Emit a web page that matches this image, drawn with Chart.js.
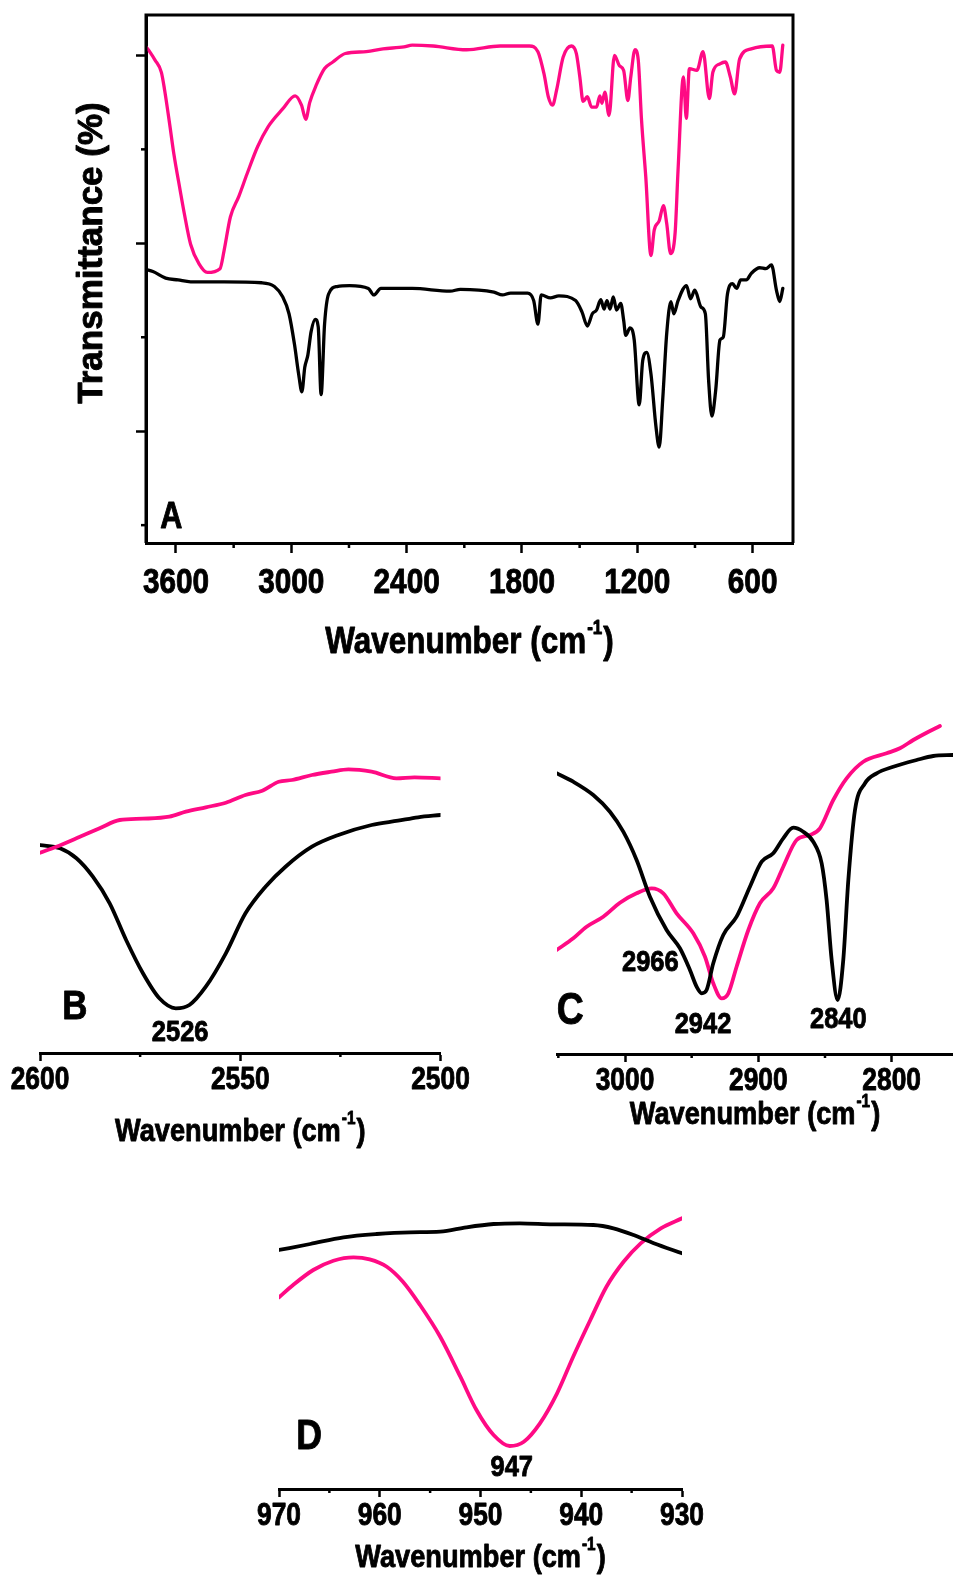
<!DOCTYPE html>
<html><head><meta charset="utf-8">
<script src="https://cdn.jsdelivr.net/npm/chart.js@4/dist/chart.umd.min.js"></script>
<style>
html,body{margin:0;padding:0;background:#fff;}
body{width:953px;height:1576px;position:relative;overflow:hidden;}
canvas{position:absolute;}
</style></head><body>
<canvas id="cA" style="left:0;top:0" width="953" height="690"></canvas>
<canvas id="cB" style="left:0;top:700px" width="476" height="460"></canvas>
<canvas id="cC" style="left:476px;top:700px" width="477" height="460"></canvas>
<canvas id="cD" style="left:200px;top:1180px" width="560" height="396"></canvas>
<script>
// ---------- DATA ----------
const waveA_pink = [3755,3737,3709,3676,3659,3633,3611,3578,3557,3524,3480,3437,3371,3350,3317,3273,3230,3175,3121,3045,2980,2947,2925,2904,2871,2827,2784,2719,2610,2523,2414,2371,2262,2088,1913,1761,1717,1685,1663,1641,1620,1586,1543,1517,1499,1482,1460,1438,1412,1395,1384,1369,1347,1319,1293,1271,1249,1234,1212,1195,1178,1156,1129,1112,1086,1064,1047,1027,1003,988,960,945,929,890,858,825,807,770,742,716,694,668,607,498,476,459,443];
const transA_pink = [50.9,50.4,49.5,48.2,46.3,42.7,39.5,35.6,33.2,29.9,27.8,26.9,27.3,29.2,32.8,35.0,37.4,40.3,42.4,44.3,45.7,44.7,43.2,45.0,46.8,48.6,49.3,50.2,50.4,50.7,50.9,51.1,51.0,50.6,51.0,51.0,50.4,48.0,45.6,44.7,46.3,49.8,51.0,50.2,47.7,45.1,45.6,44.5,44.5,45.7,44.9,46.1,43.6,50.0,48.9,48.4,45.2,47.7,50.6,49.5,43.1,37.1,28.7,31.4,32.4,34.0,32.1,28.9,31.2,37.8,47.7,43.3,48.6,48.4,50.4,45.4,48.2,49.1,49.3,47.7,45.9,49.6,50.7,51.0,48.4,48.2,51.1];
const waveA_black = [3755,3720,3654,3589,3524,3350,3154,3088,3045,3012,2984,2962,2945,2930,2914,2897,2875,2860,2845,2827,2806,2762,2697,2599,2571,2534,2371,2174,2120,1946,1902,1859,1771,1739,1717,1700,1652,1608,1521,1488,1460,1434,1412,1390,1373,1358,1342,1325,1308,1286,1271,1260,1238,1216,1190,1172,1151,1129,1103,1086,1068,1047,1025,1010,988,944,923,901,868,846,829,812,792,770,753,731,705,683,662,633,607,563,531,502,476,459,443];
const transA_black = [27.2,27.0,26.3,26.1,25.9,25.9,25.8,25.4,24.3,22.5,19.3,16.1,14.2,16.8,18.1,20.6,21.9,21.1,13.9,21.4,24.6,25.4,25.5,25.2,24.5,25.2,25.2,24.9,25.1,24.8,24.5,24.7,24.7,23.9,21.4,24.5,24.2,24.4,23.9,22.7,21.2,22.5,22.9,24.0,23.0,23.9,23.0,24.3,22.9,23.6,21.8,20.2,21.0,19.7,12.8,17.5,18.4,16.1,10.5,8.3,13.3,20.4,23.8,22.5,23.9,25.5,24.1,25.0,23.2,22.5,15.4,11.6,14.4,19.7,20.0,24.6,25.7,25.2,26.1,26.1,26.8,27.4,27.3,27.7,25.0,23.8,25.2];

const waveB_pink = [2600,2595.9,2590.9,2585.1,2580.1,2574.3,2567.7,2563.6,2558.6,2553.6,2548.7,2544.5,2540.4,2537.1,2532.1,2527.2,2523.0,2517.2,2511.0,2506.5,2500];
const valB_pink = [200.3,206.3,214.7,224.7,233,234.3,236.3,241.3,245.7,250.3,258,262.3,271.3,273,278,281.3,283.7,281.3,274.7,275.7,274.7];
const waveB_black = [2600,2595,2590.9,2586.8,2582.6,2578.5,2574.3,2570.2,2566.1,2562.7,2558.6,2553.6,2548.7,2543.7,2538.7,2532.1,2525.5,2517.2,2510.6,2505.6,2500];
const valB_black = [208,204.7,194.7,176.3,149.7,113,79.7,54.7,44.7,48,66.3,99.7,139.7,166.3,186.3,206.3,218,228,232.3,235.7,238];

const waveC_black = [3051.3,3038.8,3023.8,3011.3,3001.3,2991.3,2981.3,2968.8,2958.8,2951.3,2946.3,2942.5,2938.8,2933.8,2926.3,2916.3,2906.3,2897.5,2888.8,2881.3,2873.8,2866.3,2858.8,2852.5,2848.8,2845,2840.5,2836.3,2832.5,2827.5,2820,2811.3,2798.8,2781.3,2768.8,2753.8];
const valC_black = [280.7,272.3,259,242.3,222.3,194,157.3,124,105.7,84,67.3,60.7,64,90.7,119,137.3,167.3,192.3,200.7,215.7,226.3,222.3,212.3,190.7,154,94,54,94,174,244,270.7,280.7,287.3,294,298,299];
const waveC_pink = [3051.3,3038.8,3028.8,3016.3,3003.8,2991.3,2980,2971.3,2961.3,2948.8,2940,2933.8,2927.5,2922.5,2916.3,2907.5,2898.8,2888.8,2881.3,2871.3,2861.3,2853.8,2843.8,2833.8,2821.3,2803.8,2793.8,2783.8,2773.8,2763.8];
const valC_pink = [104,115.7,127.3,137.3,151.3,160.7,165.7,160.7,140.7,120.7,97.3,70.7,55.7,60.7,87.3,124,150.7,165.7,187.3,214,219,225.7,254,275.7,292.3,300.7,305.7,314,321.3,328];

const waveD_black = [970,966.9,963.6,960.3,957.0,954.0,951.4,948.7,946.1,942.8,938.8,936.8,934.8,932.8,930];
const valD_black = [239,245,251.7,255,256.7,257.3,261.7,265,265.7,264.7,264,260.7,254,245.7,235.7];
const waveD_pink = [970,968.6,966.6,964.6,962.6,961.0,959.3,957.7,956.0,954.0,952.0,950.4,948.7,947.1,945.7,944.1,942.4,940.8,939.1,937.5,935.8,934.1,932.1,930];
const valD_pink = [191.7,204,219,228.3,231.7,229.7,222.3,207.3,184,152.3,112.3,79,54,43,47.3,65.7,95.7,132.3,169,202.3,227.3,245.7,260.7,270.7];

// tick positions (all) and labelled ticks
const ticksA_x = [3600,3300,3000,2700,2400,2100,1800,1500,1200,900,600];
const labelsA_x = [3600,3000,2400,1800,1200,600];
const ticksA_y = [0,10,20,30,40,50];
const majorA_y = [10,30,50];
const ticksB_x = [2600,2575,2550,2525,2500];
const labelsB_x = [2600,2550,2500];
const ticksC_x = [3050,3000,2950,2900,2850,2800];
const labelsC_x = [3000,2900,2800];
const ticksD_x = [970,965,960,955,950,945,940,935,930];
const labelsD_x = [970,960,950,940,930];
const peakLabelsB = ['2526'];
const peakLabelsC = ['2966','2942','2840'];
const peakLabelsD = ['947'];

// ---------- STYLE ----------
const PINK = '#ff0a84';
const FONT = "'Liberation Sans',Arial,sans-serif";
const SQUEEZE = 0.85;
Chart.defaults.color = '#000';

// condensed, heavy look: horizontally squeeze (and slightly embolden) text drawn on these canvases
function squeezeCtx(id){
  const ctx = document.getElementById(id).getContext('2d');
  const orig = ctx.fillText.bind(ctx);
  const origStroke = ctx.strokeText.bind(ctx);
  ctx.squeezeX = SQUEEZE;
  ctx.fillText = function(text, x, y){
    const k = ctx.squeezeX;
    ctx.save(); ctx.translate(x, y); ctx.scale(k, 1);
    orig(text, 0, 0);
    ctx.strokeStyle = ctx.fillStyle; ctx.lineWidth = 0.9; ctx.lineJoin = 'round';
    origStroke(text, 0, 0);
    ctx.restore();
  };
}
['cA','cB','cC','cD'].forEach(squeezeCtx);

function pts(xs, ys){ return xs.map((x,i)=>({x:x, y:ys[i]})); }

const extras = {
  id:'extras',
  afterDraw(chart, args, o){
    const ctx = chart.ctx, a = chart.chartArea, sx = chart.scales.x, sy = chart.scales.y;
    ctx.save();
    ctx.fillStyle = '#000'; ctx.strokeStyle = '#000';
    if (o.frame){
      ctx.lineWidth = 3;
      ctx.beginPath();
      ctx.moveTo(a.left, a.bottom); ctx.lineTo(a.left, a.top); ctx.lineTo(a.right, a.top); ctx.lineTo(a.right, a.bottom);
      ctx.stroke();
    }
    // minor ticks (shorter)
    ctx.lineWidth = 2.5;
    sx.ticks.forEach(t=>{
      if (!o.labelsX.includes(t.value)){
        const p = sx.getPixelForValue(t.value);
        ctx.beginPath(); ctx.moveTo(p, a.bottom); ctx.lineTo(p, a.bottom + o.minorLen); ctx.stroke();
      }
    });
    if (o.majorY){
      sy.ticks.forEach(t=>{
        if (!o.majorY.includes(t.value)){
          const p = sy.getPixelForValue(t.value);
          ctx.beginPath(); ctx.moveTo(a.left, p); ctx.lineTo(a.left - o.minorLen, p); ctx.stroke();
        }
      });
    }
    // x title with superscript
    const size = o.titleSize, cx = (a.left + a.right)/2, cy = a.bottom + o.titleOffset;
    const k = SQUEEZE;
    const main='Wavenumber (cm', sup='-1', end=')';
    const supSize = Math.round(size*0.55);
    ctx.textBaseline='middle'; ctx.textAlign='left';
    ctx.font = `bold ${size}px ${FONT}`;
    const w1 = ctx.measureText(main).width*k, w3 = ctx.measureText(end).width*k;
    ctx.font = `bold ${supSize}px ${FONT}`;
    const w2 = ctx.measureText(sup).width*k;
    let x = cx - (w1+w2+w3+2)/2;
    ctx.font = `bold ${size}px ${FONT}`; ctx.fillText(main, x, cy); x += w1+1;
    ctx.font = `bold ${supSize}px ${FONT}`; ctx.fillText(sup, x, cy - size*0.4); x += w2+1;
    ctx.font = `bold ${size}px ${FONT}`; ctx.fillText(end, x, cy);
    // y title (normal width)
    if (o.yTitle){
      ctx.save();
      ctx.translate(o.yTitle.x, (a.top+a.bottom)/2 + o.yTitle.dy);
      ctx.rotate(-Math.PI/2);
      ctx.textAlign='center'; ctx.textBaseline='middle';
      ctx.font = `bold ${o.yTitle.size}px ${FONT}`;
      ctx.squeezeX = 1;
      ctx.fillText(o.yTitle.text, 0, 0);
      ctx.squeezeX = SQUEEZE;
      ctx.restore();
    }
    // annotations anchored to data coordinates
    ctx.textAlign='center'; ctx.textBaseline='middle';
    (o.notes||[]).forEach(n=>{
      ctx.font = `bold ${n.size}px ${FONT}`;
      ctx.fillText(n.text, sx.getPixelForValue(n.x), sy.getPixelForValue(n.y));
    });
    ctx.restore();
  }
};

function makeChart(id, c){
  const isLab = v => c.labelsX.includes(v);
  const yOpts = c.ticksY ? {
    type:'linear', min:c.yMin, max:c.yMax, display:true,
    afterFit: s => { s.width = c.yWidth; },
    afterBuildTicks: s => { s.ticks = c.ticksY.map(v=>({value:v})); },
    ticks:{display:false},
    grid:{display:true, drawOnChartArea:false, drawTicks:true, tickLength:c.tickLen, tickWidth:2.5,
          tickColor: ctx => (c.majorY.includes(ctx.tick.value) ? '#000' : 'rgba(0,0,0,0)')},
    border:{display:true, color:'#000', width:3}
  } : { type:'linear', min:c.yMin, max:c.yMax, display:false };
  return new Chart(document.getElementById(id), {
    type:'line',
    data:{ datasets: c.series.map(s=>({
      data: s.data, borderColor: s.color, borderWidth: c.lineWidth, pointRadius:0,
      fill:false, cubicInterpolationMode:'monotone', borderJoinStyle:'round', borderCapStyle:'round'
    }))},
    options:{
      responsive:false, animation:false, events:[],
      layout:{ padding:{left:c.pad.left, right:c.pad.right, top:c.pad.top, bottom:0}, autoPadding:false },
      plugins:{ legend:{display:false}, tooltip:{enabled:false},
        extras:{ frame:c.frame, labelsX:c.labelsX, majorY:c.majorY, minorLen:c.minorLen,
                 titleSize:c.titleSize, titleOffset:c.titleOffset, yTitle:c.yTitle, notes:c.notes } },
      scales:{
        x:{ type:'linear', reverse:true, min:c.xMin, max:c.xMax, position:'bottom',
            afterFit: s => { s.height = c.xHeight; },
            afterBuildTicks: s => { s.ticks = c.ticksX.map(v=>({value:v})); },
            ticks:{ maxRotation:0, minRotation:0, autoSkip:false, padding:c.tickPad,
                    font:{family:FONT, size:c.tickSize, weight:'bold'},
                    callback: v => (isLab(v) ? String(v) : '') },
            grid:{ display:true, drawOnChartArea:false, drawTicks:true, tickLength:c.tickLen, tickWidth:2.5,
                   tickColor: ctx => (isLab(ctx.tick.value) ? '#000' : 'rgba(0,0,0,0)') },
            border:{ display:true, color:'#000', width:3 } },
        y: yOpts
      }
    },
    plugins:[extras]
  });
}

// Panel A
makeChart('cA', {
  series:[{data:pts(waveA_pink, transA_pink), color:PINK},{data:pts(waveA_black, transA_black), color:'#000'}],
  xMin:390, xMax:3756, ticksX:ticksA_x, labelsX:labelsA_x,
  yMin:-1.9, yMax:54.3, ticksY:ticksA_y, majorY:majorA_y, yWidth:146,
  pad:{left:0, right:160, top:15}, xHeight:147,
  tickLen:10, minorLen:5, tickPad:9, tickSize:35, lineWidth:3.3,
  frame:true, titleSize:37, titleOffset:100,
  yTitle:{text:'Transmittance (%)', x:92, dy:-26, size:35},
  notes:[{text:'A', x:3625, y:0.7, size:36}]
});
// Panel B
makeChart('cB', {
  series:[{data:pts(waveB_pink, valB_pink), color:PINK},{data:pts(waveB_black, valB_black), color:'#000'}],
  xMin:2500, xMax:2600, ticksX:ticksB_x, labelsX:labelsB_x,
  yMin:0, yMax:333,
  pad:{left:40, right:33, top:20}, xHeight:107,
  tickLen:8, minorLen:4, tickPad:1, tickSize:31, lineWidth:3.8,
  frame:false, titleSize:32, titleOffset:79,
  notes:[{text:'B', x:2591.3, y:45, size:41},{text:peakLabelsB[0], x:2565, y:20, size:30}]
});
// Panel C
makeChart('cC', {
  series:[{data:pts(waveC_black, valC_black), color:'#000'},{data:pts(waveC_pink, valC_pink), color:PINK}],
  xMin:2754, xMax:3051, ticksX:ticksC_x, labelsX:labelsC_x,
  yMin:0, yMax:334,
  pad:{left:81, right:0, top:20}, xHeight:106,
  tickLen:8, minorLen:4, tickPad:1, tickSize:31, lineWidth:3.8,
  frame:false, titleSize:32, titleOffset:61,
  notes:[{text:'C', x:3041, y:42, size:44},{text:peakLabelsC[0], x:2981, y:91, size:30},
         {text:peakLabelsC[1], x:2941.5, y:29, size:30},{text:peakLabelsC[2], x:2840, y:34, size:30}]
});
// Panel D
makeChart('cD', {
  series:[{data:pts(waveD_black, valD_black), color:'#000'},{data:pts(waveD_pink, valD_pink), color:PINK}],
  xMin:930, xMax:970, ticksX:ticksD_x, labelsX:labelsD_x,
  yMin:0, yMax:300,
  pad:{left:79, right:78, top:9}, xHeight:87,
  tickLen:8, minorLen:4, tickPad:1, tickSize:31, lineWidth:3.8,
  frame:false, titleSize:32, titleOffset:69,
  notes:[{text:'D', x:967, y:52, size:42},{text:peakLabelsD[0], x:946.9, y:21, size:30}]
});
</script>
</body></html>
